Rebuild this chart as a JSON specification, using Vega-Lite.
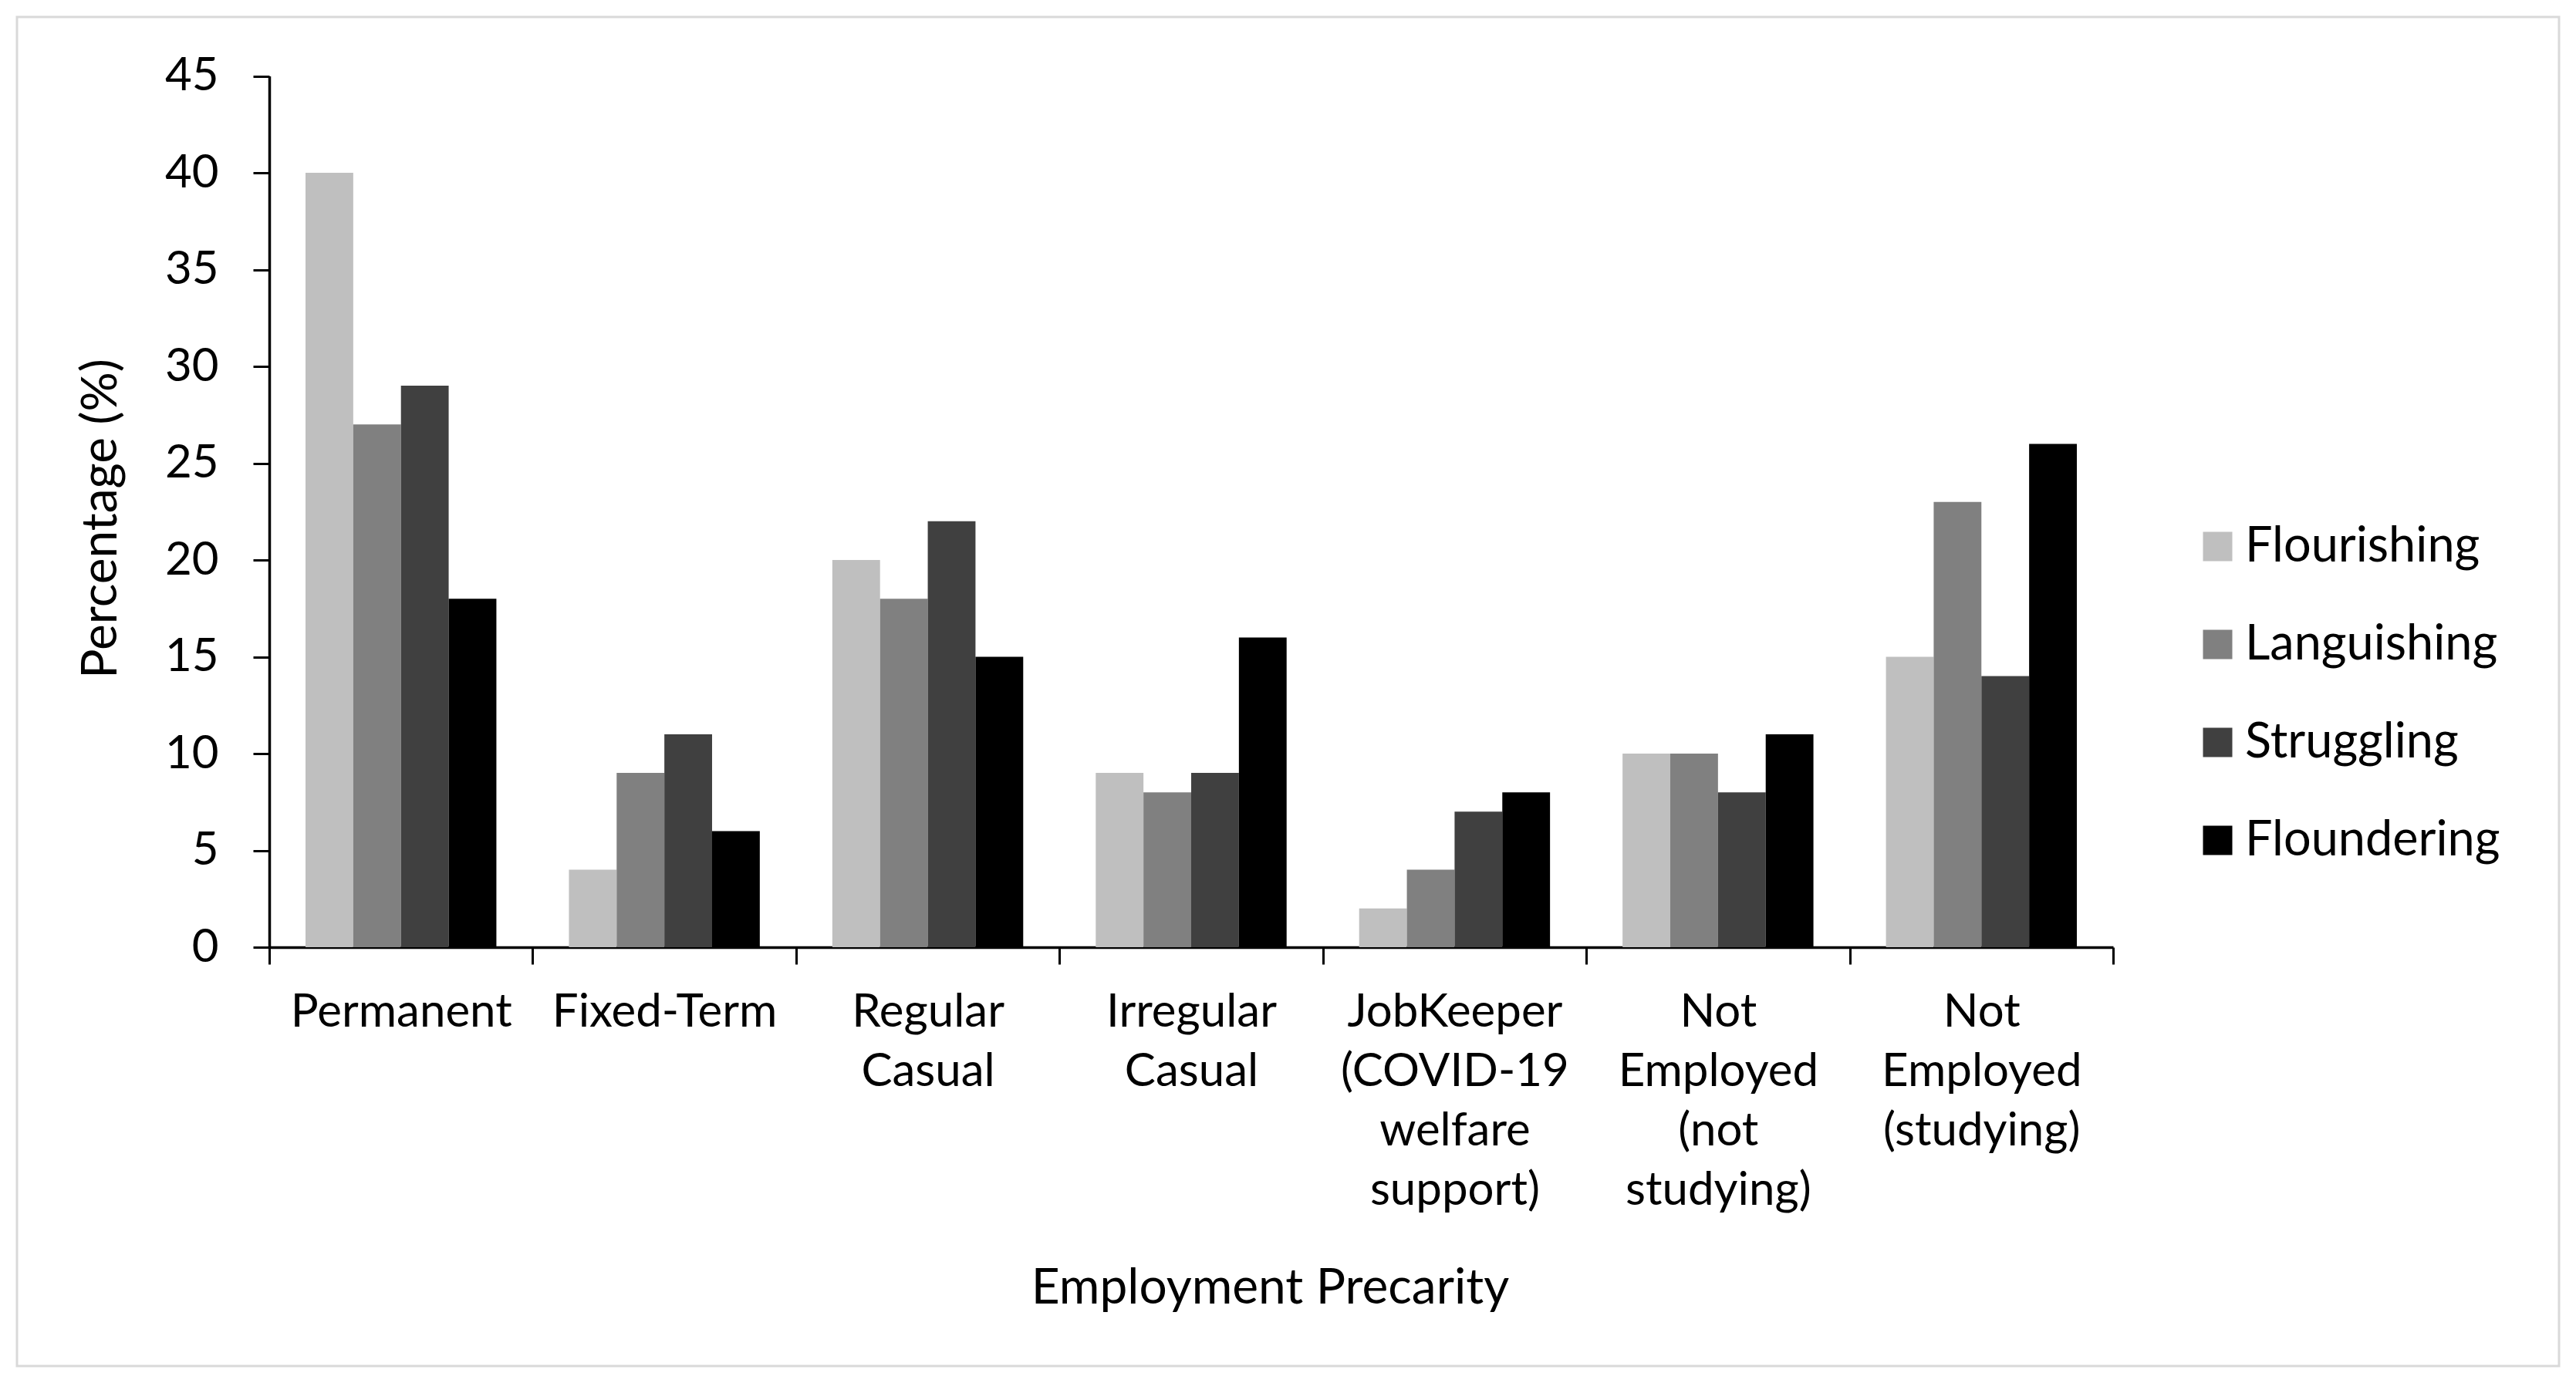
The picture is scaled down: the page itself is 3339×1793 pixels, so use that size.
{
  "$schema": "https://vega.github.io/schema/vega-lite/v6.json",
  "width": 3295,
  "height": 1749,
  "autosize": {"type": "none"},
  "padding": {"left": 22, "top": 22, "right": 22, "bottom": 22},
  "background": "white",
  "config": {
    "view": {"stroke": "#d9d9d9", "strokeWidth": 3},
    "font": "Lato",
    "axis": {
      "labelFont": "Lato",
      "titleFont": "Lato",
      "labelColor": "black",
      "titleColor": "black",
      "domainColor": "black",
      "tickColor": "black",
      "labelFontWeight": "normal",
      "titleFontWeight": "normal",
      "labelLimit": 0,
      "grid": false
    },
    "legend": {"labelFont": "Lato", "labelLimit": 0}
  },
  "data": {
    "values": [
      {"cat": "Permanent", "group": "Flourishing", "pct": 40},
      {"cat": "Permanent", "group": "Languishing", "pct": 27},
      {"cat": "Permanent", "group": "Struggling", "pct": 29},
      {"cat": "Permanent", "group": "Floundering", "pct": 18},
      {"cat": "Fixed-Term", "group": "Flourishing", "pct": 4},
      {"cat": "Fixed-Term", "group": "Languishing", "pct": 9},
      {"cat": "Fixed-Term", "group": "Struggling", "pct": 11},
      {"cat": "Fixed-Term", "group": "Floundering", "pct": 6},
      {"cat": "Regular|Casual", "group": "Flourishing", "pct": 20},
      {"cat": "Regular|Casual", "group": "Languishing", "pct": 18},
      {"cat": "Regular|Casual", "group": "Struggling", "pct": 22},
      {"cat": "Regular|Casual", "group": "Floundering", "pct": 15},
      {"cat": "Irregular|Casual", "group": "Flourishing", "pct": 9},
      {"cat": "Irregular|Casual", "group": "Languishing", "pct": 8},
      {"cat": "Irregular|Casual", "group": "Struggling", "pct": 9},
      {"cat": "Irregular|Casual", "group": "Floundering", "pct": 16},
      {"cat": "JobKeeper|(COVID-19|welfare|support)", "group": "Flourishing", "pct": 2},
      {"cat": "JobKeeper|(COVID-19|welfare|support)", "group": "Languishing", "pct": 4},
      {"cat": "JobKeeper|(COVID-19|welfare|support)", "group": "Struggling", "pct": 7},
      {"cat": "JobKeeper|(COVID-19|welfare|support)", "group": "Floundering", "pct": 8},
      {"cat": "Not|Employed|(not|studying)", "group": "Flourishing", "pct": 10},
      {"cat": "Not|Employed|(not|studying)", "group": "Languishing", "pct": 10},
      {"cat": "Not|Employed|(not|studying)", "group": "Struggling", "pct": 8},
      {"cat": "Not|Employed|(not|studying)", "group": "Floundering", "pct": 11},
      {"cat": "Not|Employed|(studying)", "group": "Flourishing", "pct": 15},
      {"cat": "Not|Employed|(studying)", "group": "Languishing", "pct": 23},
      {"cat": "Not|Employed|(studying)", "group": "Struggling", "pct": 14},
      {"cat": "Not|Employed|(studying)", "group": "Floundering", "pct": 26}
    ]
  },
  "mark": {"type": "bar"},
  "encoding": {
    "x": {
      "field": "cat",
      "type": "nominal",
      "sort": null,
      "scale": {"range": [327, 2717], "paddingInner": 0, "paddingOuter": 0},
      "axis": {
        "title": "Employment Precarity",
        "labelExpr": "datum.label ? split(datum.label, '|') : ''",
        "labelAngle": 0,
        "labelFontSize": 60,
        "labelLineHeight": 77,
        "labelPadding": 33,
        "labelBaseline": "top",
        "tickBand": "extent",
        "tickSize": 22,
        "tickWidth": 3,
        "domainWidth": 3.5,
        "offset": -543,
        "titleFontSize": 64,
        "titleX": 1624,
        "titleY": 461,
        "titleBaseline": "alphabetic",
        "titleAlign": "center"
      }
    },
    "xOffset": {
      "field": "group",
      "type": "nominal",
      "sort": ["Flourishing", "Languishing", "Struggling", "Floundering"],
      "scale": {"paddingInner": 0, "paddingOuter": 0.76}
    },
    "y": {
      "field": "pct",
      "type": "quantitative",
      "scale": {"domain": [0, 45], "nice": false, "range": [1206, 76.5]},
      "axis": {
        "title": "Percentage (%)",
        "values": [0, 5, 10, 15, 20, 25, 30, 35, 40, 45],
        "labelFontSize": 60,
        "labelPadding": 45,
        "labelFlush": false,
        "tickSize": 21,
        "tickWidth": 3,
        "domainWidth": 3.5,
        "offset": -327,
        "titleFontSize": 64,
        "titleAngle": 270,
        "titleBaseline": "bottom",
        "titleAlign": "center",
        "titleX": -186,
        "titleY": 650
      }
    },
    "color": {
      "field": "group",
      "type": "nominal",
      "scale": {
        "domain": ["Flourishing", "Languishing", "Struggling", "Floundering"],
        "range": ["#bfbfbf", "#808080", "#404040", "#000000"]
      },
      "legend": {
        "title": null,
        "orient": "none",
        "legendX": 2821,
        "legendY": 655,
        "padding": 0,
        "symbolType": "square",
        "symbolSize": 1444,
        "symbolStrokeWidth": 0,
        "labelFontSize": 63,
        "labelColor": "black",
        "labelOffset": 4,
        "rowPadding": 63
      }
    }
  }
}
